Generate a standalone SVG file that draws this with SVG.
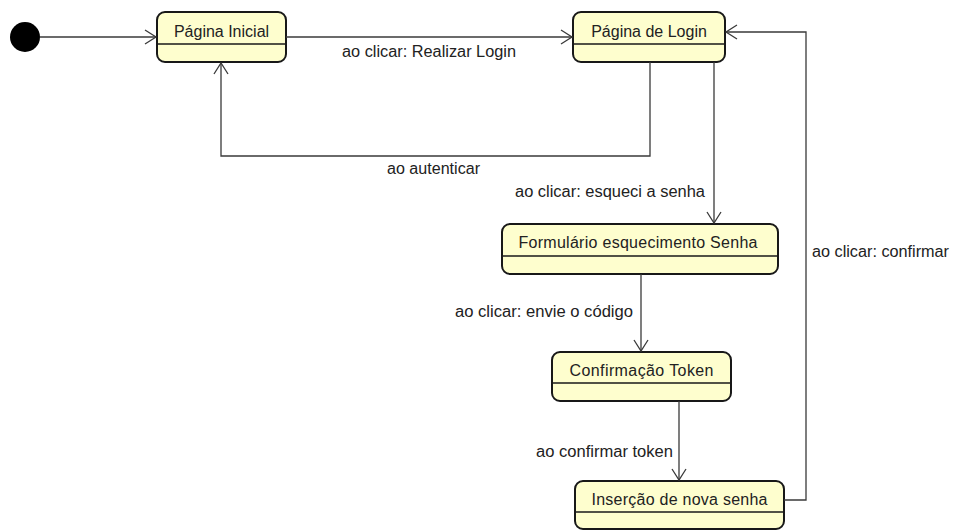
<svg xmlns="http://www.w3.org/2000/svg" width="954" height="532" viewBox="0 0 954 532">
  <style>
    .state rect.box { fill: #FEFECE; stroke: #181818; stroke-width: 2; }
    .state line.div { stroke: #181818; stroke-width: 1.5; }
    .state text { font-family: "Liberation Sans", Arial, sans-serif; font-size: 16px; fill: #222; text-anchor: middle; }
    .edges path { fill: none; stroke: #3a3a3a; stroke-width: 1.3; }
    .lbl { font-family: "Liberation Sans", Arial, sans-serif; font-size: 16px; fill: #222; }
  </style>
  <rect width="954" height="532" fill="#ffffff"/>

  <!-- initial pseudo-state -->
  <g id="initial">
    <circle cx="25" cy="37" r="15" fill="#000"/>
  </g>

  <g id="pagina-inicial" class="state">
    <rect class="box" x="157" y="12" width="129" height="50" rx="8"/>
    <line class="div" x1="157" y1="44" x2="286" y2="44"/>
    <text x="221.5" y="37">Página Inicial</text>
  </g>

  <g id="pagina-login" class="state">
    <rect class="box" x="573" y="12" width="152" height="50" rx="8"/>
    <line class="div" x1="573" y1="44" x2="725" y2="44"/>
    <text x="649" y="37">Página de Login</text>
  </g>

  <g id="formulario-senha" class="state">
    <rect class="box" x="502" y="224" width="276" height="50" rx="8"/>
    <line class="div" x1="502" y1="256" x2="778" y2="256"/>
    <text x="638" y="248" textLength="239" lengthAdjust="spacing">Formulário esquecimento Senha</text>
  </g>

  <g id="confirmacao-token" class="state">
    <rect class="box" x="552" y="352" width="179" height="49" rx="8"/>
    <line class="div" x1="552" y1="383" x2="731" y2="383"/>
    <text x="641.5" y="376" textLength="144" lengthAdjust="spacing">Confirmação Token</text>
  </g>

  <g id="insercao-senha" class="state">
    <rect class="box" x="575" y="481" width="209" height="48" rx="8"/>
    <line class="div" x1="575" y1="512" x2="784" y2="512"/>
    <text x="679.5" y="505" textLength="176" lengthAdjust="spacing">Inserção de nova senha</text>
  </g>

  <g id="connectors" class="edges">
    <!-- start -> Página Inicial -->
    <path d="M40 37 H156"/>
    <path d="M145 30 L156 37 L145 44"/>

    <!-- Página Inicial -> Página de Login -->
    <path d="M286 37 H572"/>
    <path d="M561 30 L572 37 L561 44"/>

    <!-- Página de Login -> Página Inicial -->
    <path d="M650 62 V156 H221 V63"/>
    <path d="M214 74 L221 63 L228 74"/>

    <!-- Página de Login -> Formulário -->
    <path d="M714 62 V223"/>
    <path d="M707 212 L714 223 L721 212"/>

    <!-- Formulário -> Confirmação Token -->
    <path d="M641 274 V351"/>
    <path d="M634 340 L641 351 L648 340"/>

    <!-- Confirmação Token -> Inserção -->
    <path d="M679 401 V480"/>
    <path d="M672 469 L679 480 L686 469"/>

    <!-- Inserção -> Página de Login -->
    <path d="M784 500 H806 V32 H726"/>
    <path d="M737 25 L726 32 L737 39"/>
  </g>

  <g id="labels">
    <text class="lbl" x="342" y="57" textLength="174" lengthAdjust="spacingAndGlyphs">ao clicar: Realizar Login</text>
    <text class="lbl" x="387" y="174" textLength="93" lengthAdjust="spacingAndGlyphs">ao autenticar</text>
    <text class="lbl" x="515" y="197" textLength="190" lengthAdjust="spacingAndGlyphs">ao clicar: esqueci a senha</text>
    <text class="lbl" x="455" y="317" textLength="178" lengthAdjust="spacingAndGlyphs">ao clicar: envie o código</text>
    <text class="lbl" x="536" y="457" textLength="137" lengthAdjust="spacingAndGlyphs">ao confirmar token</text>
    <text class="lbl" x="812" y="257" textLength="137" lengthAdjust="spacingAndGlyphs">ao clicar: confirmar</text>
  </g>
</svg>
